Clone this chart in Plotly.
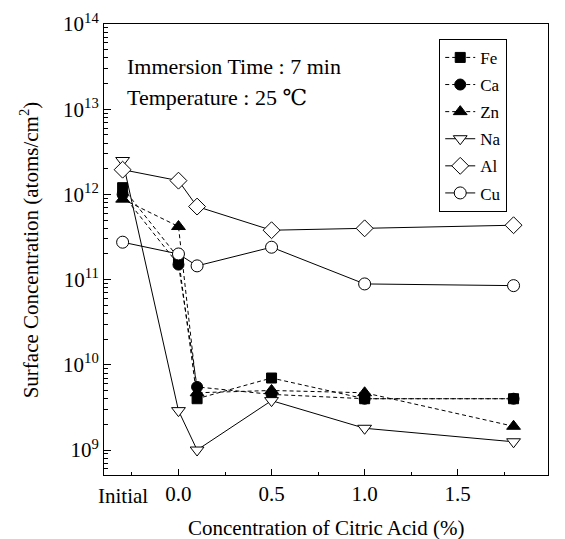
import plotly.graph_objects as go

# x positions: "Initial" is drawn at -0.3 on the concentration axis
x_pos = [-0.3, 0.0, 0.1, 0.5, 1.0, 1.8]

fe = [1.2e12, 1.8e11, 4.0e9, 7.0e9, 4.0e9, 4.0e9]
ca = [1.0e12, 1.5e11, 5.5e9, 4.5e9, 4.0e9, 4.0e9]
zn = [8.8e11, 4.2e11, 4.7e9, 5.0e9, 4.7e9, 1.9e9]
na = [2.5e12, 2.9e9, 1.0e9, 3.8e9, 1.8e9, 1.25e9]
al = [1.95e12, 1.45e12, 7.2e11, 3.8e11, 4.0e11, 4.35e11]
cu = [2.75e11, 2.0e11, 1.45e11, 2.4e11, 8.9e10, 8.5e10]

series = [
    ("Fe", fe, "square", "black", "dash", 10),
    ("Ca", ca, "circle", "black", "dash", 11),
    ("Zn", zn, "triangle-up", "black", "dash", 12),
    ("Na", na, "triangle-down", "white", "solid", 12),
    ("Al", al, "diamond", "white", "solid", 13),
    ("Cu", cu, "circle", "white", "solid", 12),
]

y_major = [1e9, 1e10, 1e11, 1e12, 1e13, 1e14]
y_major_text = ["10<sup>9</sup>", "10<sup>10</sup>", "10<sup>11</sup>",
                "10<sup>12</sup>", "10<sup>13</sup>", "10<sup>14</sup>"]
y_minor = [m * 10 ** k for k in range(8, 14) for m in range(2, 10)]

x_major = [0.0, 0.5, 1.0, 1.5, 2.0]
x_major_text = ["0.0", "0.5", "1.0", "1.5", "2.0"]

fig = go.Figure()
for name, vals, sym, fill, dash, size in series:
    fig.add_trace(go.Scatter(
        x=x_pos, y=vals, name=name, mode="lines+markers", legendgroup=name,
        line=dict(color="black", width=1, dash="4px,3px" if dash == "dash" else "solid"),
        marker=dict(symbol=sym, size=size, color=fill, line=dict(color="black", width=1)),
    ))

FONT = "Liberation Serif, Times New Roman, DejaVu Serif, serif"
fig.update_layout(
    width=565, height=539,
    margin=dict(l=104, r=17, t=24, b=64),
    paper_bgcolor="white", plot_bgcolor="white",
    font=dict(family=FONT, size=21, color="black"),
    showlegend=True,
    legend=dict(x=0.755, y=0.967, xanchor="left", yanchor="top",
                bordercolor="black", borderwidth=1, bgcolor="white",
                font=dict(family=FONT, size=17), tracegroupgap=2,
                itemwidth=30),
    xaxis=dict(
        range=[-0.4, 1.985], showline=True, linecolor="black", linewidth=1, mirror=True,
        tickmode="array", tickvals=x_major, ticktext=x_major_text,
        ticks="inside", ticklen=6, tickcolor="black", showgrid=False, zeroline=False,
        minor=dict(tickmode="linear", tick0=0, dtick=0.25, ticks="inside", ticklen=3,
                   tickcolor="black", showgrid=False),
        tickfont=dict(family=FONT, size=21), automargin=False,
    ),
    yaxis=dict(
        type="log", range=[8.707, 14], showline=True, linecolor="black", linewidth=1, mirror=True,
        tickmode="array", tickvals=y_major, ticktext=y_major_text,
        ticks="inside", ticklen=7, tickcolor="black", showgrid=False, zeroline=False,
        minor=dict(tickmode="array", tickvals=y_minor, ticks="inside", ticklen=4,
                   tickcolor="black", showgrid=False),
        tickfont=dict(family=FONT, size=21), automargin=False,
    ),
)

fig.add_annotation(x=0.5, y=-0.1175, xref="paper", yref="paper",
                   text="Concentration of Citric Acid (%)", showarrow=False,
                   xanchor="center", yanchor="middle", font=dict(family=FONT, size=21))
fig.add_annotation(x=-0.167, y=0.5, xref="paper", yref="paper",
                   text="Surface Concentration (atoms/cm<sup>2</sup>)", showarrow=False,
                   textangle=-90, xanchor="center", yanchor="middle",
                   font=dict(family=FONT, size=21))
fig.add_annotation(x=-0.3, y=0, xref="x", yref="paper", yshift=-7,
                   text="Initial", showarrow=False, yanchor="top",
                   font=dict(family=FONT, size=21))
fig.add_annotation(x=0.048, y=0.905, xref="paper", yref="paper",
                   text="Immersion Time : 7 min", showarrow=False, xanchor="left",
                   yanchor="middle", font=dict(family=FONT, size=22))
fig.add_annotation(x=0.048, y=0.837, xref="paper", yref="paper",
                   text="Temperature : 25 ℃", showarrow=False, xanchor="left",
                   yanchor="middle", font=dict(family=FONT, size=22))

fig.write_html("out.html")
